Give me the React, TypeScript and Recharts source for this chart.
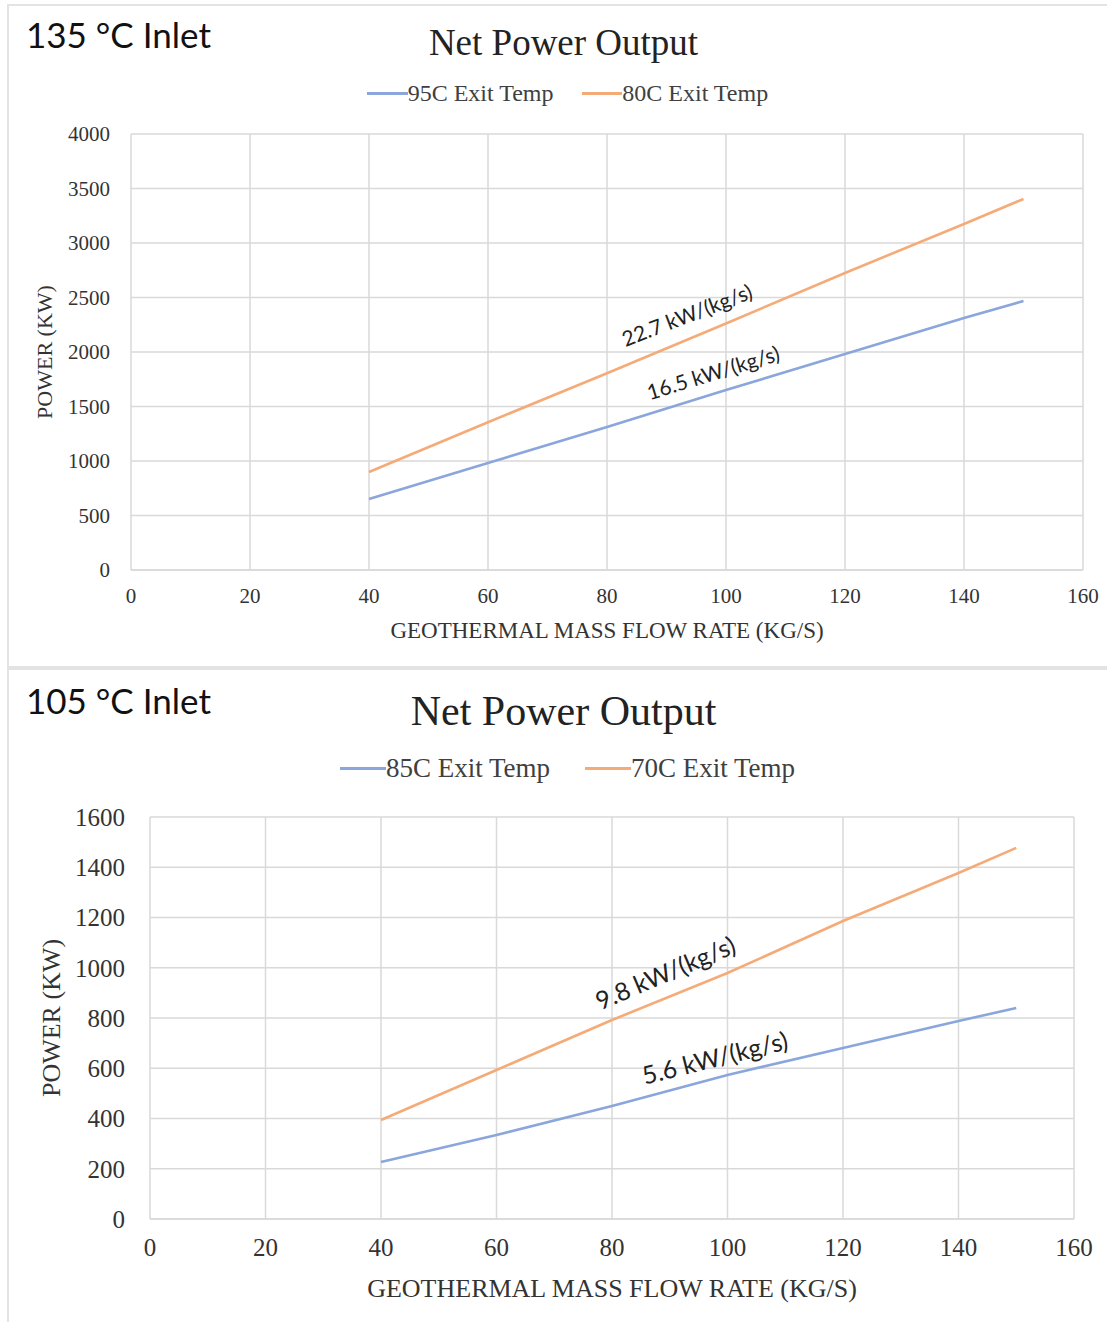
import { CartesianGrid, Line, LineChart, ReferenceDot, XAxis, YAxis } from 'recharts'

// flow rate (kg/s) at each computed point
const flow = [40, 60, 80, 100, 120, 140, 150]

// 135 °C inlet
const exit95 = [652, 982, 1312, 1651, 1982, 2312, 2468]
const exit80 = [899, 1356, 1805, 2262, 2725, 3175, 3404]

// 105 °C inlet
const exit85 = [227, 334, 450, 573, 681, 788, 840]
const exit70 = [394, 593, 792, 979, 1186, 1377, 1477]

const xTicks = [0, 20, 40, 60, 80, 100, 120, 140, 160]
const yTicksTop = [0, 500, 1000, 1500, 2000, 2500, 3000, 3500, 4000]
const yTicksBottom = [0, 200, 400, 600, 800, 1000, 1200, 1400, 1600]

// slope labels: [x, y, text, angle]
const notesTop: [number, number, string, number][] = [
  [93.4, 2345, '22.7 kW/(kg/s)', -21],
  [97.8, 1817, '16.5 kW/(kg/s)', -17],
]
const notesBottom: [number, number, string, number][] = [
  [89.2, 983, '9.8 kW/(kg/s)', -23],
  [97.8, 645, '5.6 kW/(kg/s)', -14],
]

const BLUE = '#8aa6dc'
const ORANGE = '#f5ab78'
const GRID = '#d9d9d9'
const SERIF = '"Liberation Serif", "Times New Roman", serif'
const SANS = 'Lato, "Noto Sans", sans-serif'

const toRows = (a: number[], b: number[]) => flow.map((f, i) => ({ flow: f, a: a[i], b: b[i] }))

function LegendBox({ names, size, gap, top }: { names: string[]; size: number; gap: number; top: number }) {
  const colors = [BLUE, ORANGE]
  return (
    <div
      style={{
        position: 'absolute',
        top,
        left: 14,
        width: 1107,
        display: 'flex',
        justifyContent: 'center',
        gap,
        fontFamily: SERIF,
        fontSize: size,
        lineHeight: 1.15,
        color: '#404040',
      }}
    >
      {names.map((n, i) => (
        <div key={n} style={{ display: 'flex', alignItems: 'center' }}>
          <span style={{ display: 'inline-block', width: size * 1.7, height: 3, background: colors[i] }} />
          <span>{n}</span>
        </div>
      ))}
    </div>
  )
}

function Note({ cx, cy, text, angle, size }: any) {
  return (
    <text
      x={cx}
      y={cy}
      transform={`rotate(${angle} ${cx} ${cy})`}
      textAnchor="middle"
      dominantBaseline="central"
      fontFamily={SANS}
      fontSize={size}
      fill="#222"
    >
      {text}
    </text>
  )
}

interface PanelProps {
  top: number
  height: number
  heading: string
  headingTop: number
  title: string
  titleSize: number
  titleTop: number
  names: string[]
  legendTop: number
  legendSize: number
  legendGap: number
  rows: { flow: number; a: number; b: number }[]
  yMax: number
  yTicks: number[]
  notes: [number, number, string, number][]
  noteSize: number
  margin: { top: number; right: number; bottom: number; left: number }
  yWidth: number
  tickSize: number
  yTickGap: number
  xTickGap: number
  xTitleSize: number
  xTitleY: number
  yTitleX: number
  yTitleSize: number
}

function Panel(p: PanelProps) {
  const W = 1107
  return (
    <div style={{ position: 'absolute', left: 0, top: p.top, width: W, height: p.height }}>
      <div
        style={{ position: 'absolute', left: 26, top: p.headingTop, fontFamily: SANS, fontSize: 35, lineHeight: 1, color: '#111' }}
      >
        {p.heading}
      </div>
      <div
        style={{
          position: 'absolute',
          left: 0,
          width: W,
          top: p.titleTop,
          textAlign: 'center',
          fontFamily: SERIF,
          fontSize: p.titleSize,
          lineHeight: 1,
          color: '#222',
          paddingLeft: 20,
          boxSizing: 'border-box',
        }}
      >
        {p.title}
      </div>
      <LegendBox names={p.names} size={p.legendSize} gap={p.legendGap} top={p.legendTop} />
      <LineChart width={W} height={p.height} data={p.rows} margin={p.margin}>
        <CartesianGrid stroke={GRID} strokeWidth={1.5} />
        <XAxis
          dataKey="flow"
          type="number"
          domain={[0, 160]}
          ticks={xTicks}
          stroke={GRID}
          strokeWidth={1.5}
          tickLine={false}
          tickSize={0}
          tickMargin={p.xTickGap}
          tick={{ fill: '#333', fontFamily: SERIF, fontSize: p.tickSize }}
          height={60}
          label={{
            value: 'GEOTHERMAL  MASS FLOW RATE (KG/S)',
            position: 'bottom',
            offset: p.xTitleY,
            style: { fill: '#333', fontFamily: SERIF, fontSize: p.xTitleSize, whiteSpace: 'pre' },
          }}
        />
        <YAxis
          type="number"
          domain={[0, p.yMax]}
          ticks={p.yTicks}
          axisLine={false}
          tickLine={false}
          tickSize={0}
          tickMargin={p.yTickGap}
          width={p.yWidth}
          tick={{ fill: '#333', fontFamily: SERIF, fontSize: p.tickSize }}
          label={{
            value: 'POWER (KW)',
            angle: -90,
            position: 'insideLeft',
            offset: p.yTitleX,
            style: { fill: '#333', fontFamily: SERIF, fontSize: p.yTitleSize, textAnchor: 'middle' },
          }}
        />
        <Line name={p.names[0]} dataKey="a" stroke={BLUE} strokeWidth={2.6} dot={false} isAnimationActive={false} />
        <Line name={p.names[1]} dataKey="b" stroke={ORANGE} strokeWidth={2.6} dot={false} isAnimationActive={false} />
        {p.notes.map(([x, y, text, angle]) => (
          <ReferenceDot
            key={text}
            x={x}
            y={y}
            r={0}
            shape={(s: any) => <Note cx={s.cx} cy={s.cy} text={text} angle={angle} size={p.noteSize} />}
          />
        ))}
      </LineChart>
    </div>
  )
}

export default function App() {
  return (
    <div style={{ position: 'absolute', left: 0, top: 0, width: 1107, height: 1322, background: '#fff', overflow: 'hidden' }}>
      <div style={{ position: 'absolute', left: 7, top: 4, right: 0, height: 2, background: '#e3e3e3' }} />
      <div style={{ position: 'absolute', left: 7, top: 4, width: 2, bottom: 0, background: '#e3e3e3' }} />
      <Panel
        top={0}
        height={665}
        heading="135 °C Inlet"
        headingTop={17}
        title="Net Power Output"
        titleSize={37}
        titleTop={24}
        names={['95C Exit Temp', '80C Exit Temp']}
        legendTop={80}
        legendSize={24}
        legendGap={28}
        rows={toRows(exit95, exit80)}
        yMax={4000}
        yTicks={yTicksTop}
        notes={notesTop}
        noteSize={21}
        margin={{ top: 134, right: 24, bottom: 35, left: 61 }}
        yWidth={70}
        tickSize={21}
        yTickGap={21}
        xTickGap={18}
        xTitleSize={23}
        xTitleY={-8}
        yTitleX={-17}
        yTitleSize={22}
      />
      <div style={{ position: 'absolute', left: 7, top: 666, right: 0, height: 4, background: '#e3e3e3' }} />
      <Panel
        top={668}
        height={654}
        heading="105 °C Inlet"
        headingTop={15}
        title="Net Power Output"
        titleSize={42}
        titleTop={22}
        names={['85C Exit Temp', '70C Exit Temp']}
        legendTop={85}
        legendSize={27}
        legendGap={35}
        rows={toRows(exit85, exit70)}
        yMax={1600}
        yTicks={yTicksBottom}
        notes={notesBottom}
        noteSize={25}
        margin={{ top: 149, right: 33, bottom: 43, left: 60 }}
        yWidth={90}
        tickSize={25}
        yTickGap={25}
        xTickGap={19}
        xTitleSize={26}
        xTitleY={0}
        yTitleX={-9}
        yTitleSize={26}
      />
    </div>
  )
}
